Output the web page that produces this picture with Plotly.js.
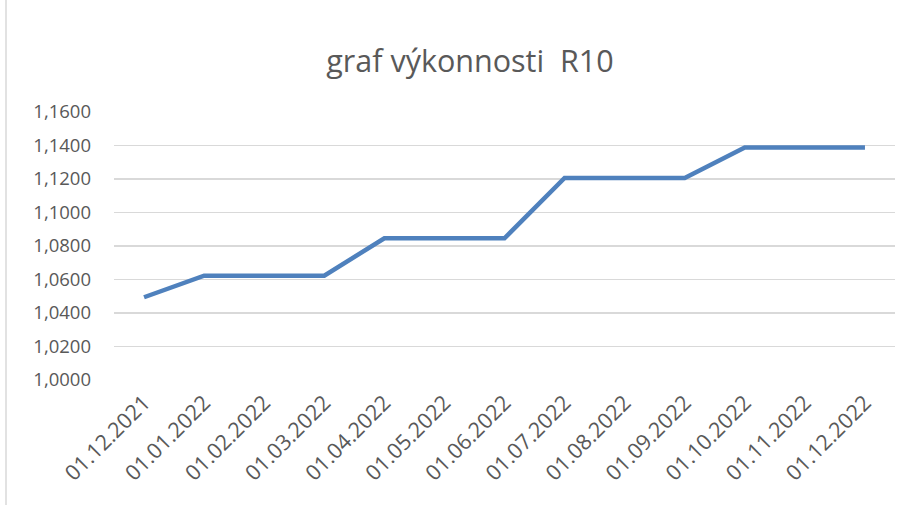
<!DOCTYPE html>
<html>
<head>
<meta charset="utf-8">
<script src="https://cdn.plot.ly/plotly-3.0.1.min.js"></script>
<style>
html,body{margin:0;padding:0;background:#fff;}
#chart{width:911px;height:505px;}
</style>
</head>
<body>
<div id="chart"></div>
<script>
const dates = ["01.12.2021","01.01.2022","01.02.2022","01.03.2022","01.04.2022","01.05.2022","01.06.2022","01.07.2022","01.08.2022","01.09.2022","01.10.2022","01.11.2022","01.12.2022"];
const values = [1.0494,1.0623,1.0623,1.0623,1.0846,1.0846,1.0846,1.1206,1.1206,1.1206,1.1388,1.1388,1.1388];
const yTicks = [1.00,1.02,1.04,1.06,1.08,1.10,1.12,1.14,1.16];
const chartTitle = "graf výkonnosti&nbsp; R10";

const font = '"Open Sans", "Noto Sans", "DejaVu Sans", sans-serif';
const gray = '#595959';

const trace = {
  type: 'scatter',
  mode: 'lines',
  x: dates,
  y: values,
  line: {color: '#4f81bd', width: 4.5, shape: 'linear'},
  hoverinfo: 'x+y'
};

const W = 911, H = 505, ml = 114, mr = 16, mt = 112, mb = 125;
const pw = W - ml - mr, ph = H - mt - mb;

const layout = {
  width: W, height: H,
  margin: {l: ml, r: mr, t: mt, b: mb, pad: 0},
  paper_bgcolor: '#ffffff',
  plot_bgcolor: '#ffffff',
  separators: ', ',
  showlegend: false,
  title: {
    text: chartTitle,
    font: {family: font, size: 30.5, color: gray},
    x: 470/W, xanchor: 'center',
    y: 1 - 61/H, yanchor: 'middle'
  },
  xaxis: {
    type: 'category',
    range: [-0.5, dates.length - 0.5],
    tickangle: -45,
    tickfont: {family: font, size: 21.5, color: gray},
    showgrid: false,
    zeroline: false,
    showline: false,
    ticks: '',
    ticklabelstandoff: 5,
    fixedrange: true
  },
  yaxis: {
    range: [1.0, 1.16],
    tickvals: yTicks,
    tickformat: '.4f',
    tickfont: {family: font, size: 18.5, color: gray},
    showgrid: true,
    gridcolor: '#d9d9d9',
    gridwidth: 1.3,
    zeroline: false,
    showline: false,
    ticks: '',
    ticklabelstandoff: 22,
    fixedrange: true
  },
  shapes: [{
    type: 'line', xref: 'paper', yref: 'paper',
    x0: (6 - ml)/pw, x1: (6 - ml)/pw,
    y0: -mb/ph, y1: 1 + mt/ph,
    line: {color: '#d9d9d9', width: 1.5}
  }]
};

Plotly.newPlot('chart', [trace], layout, {displayModeBar: false, staticPlot: true});
</script>
</body>
</html>
